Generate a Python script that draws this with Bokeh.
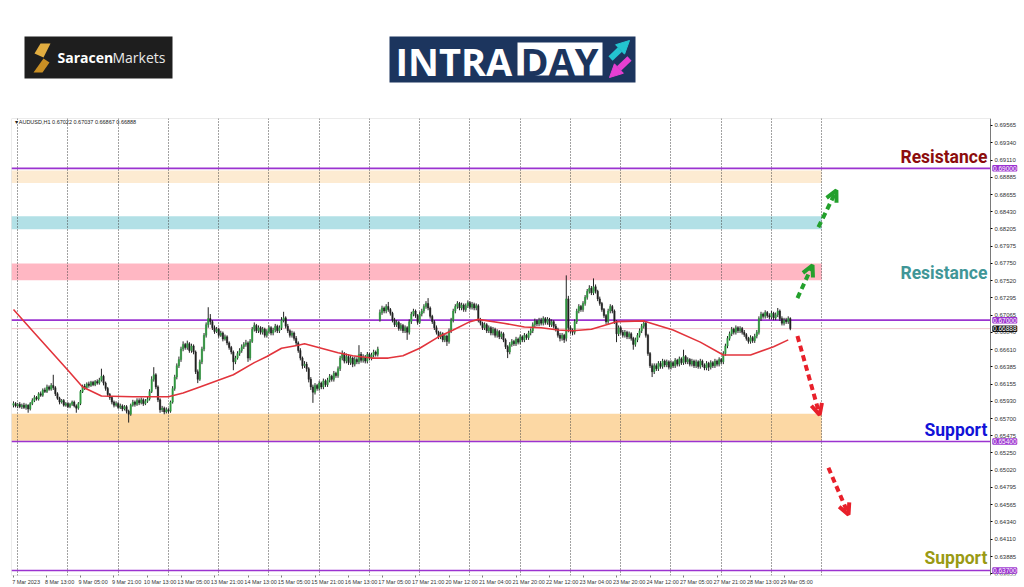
from bokeh.plotting import figure
from bokeh.models import (Range1d, FixedTicker, PrintfTickFormatter, Label, BoxAnnotation,
                          Arrow, OpenHead, NormalHead, ColumnDataSource)
from bokeh.layouts import column
from bokeh.core.properties import value
from bokeh.embed import file_html
from bokeh.resources import INLINE

# ---------------- data ----------------
symbol = "AUDUSD,H1"

opens = [
0.6588, 0.6590, 0.6587, 0.6589, 0.6586, 0.6588, 0.6585, 0.6588, 0.6583, 0.6590, 0.6594, 0.6598,
0.6596, 0.6603, 0.6601, 0.6608, 0.6606, 0.6612, 0.6609, 0.6614, 0.6611, 0.6603, 0.6597, 0.6592,
0.6594, 0.6588, 0.6590, 0.6586, 0.6589, 0.6592, 0.6587, 0.6584, 0.6590, 0.6606, 0.6613, 0.6611,
0.6616, 0.6614, 0.6618, 0.6615, 0.6619, 0.6617, 0.6621, 0.6626, 0.6617, 0.6610, 0.6602, 0.6598,
0.6592, 0.6588, 0.6590, 0.6585, 0.6587, 0.6583, 0.6586, 0.6580, 0.6576, 0.6588, 0.6592, 0.6589,
0.6594, 0.6591, 0.6595, 0.6590, 0.6593, 0.6596, 0.6606, 0.6622, 0.6628, 0.6612, 0.6595, 0.6582,
0.6584, 0.6579, 0.6582, 0.6580, 0.6592, 0.6610, 0.6625, 0.6640, 0.6648, 0.6662, 0.6668, 0.6664,
0.6669, 0.6660, 0.6666, 0.6658, 0.6632, 0.6622, 0.6645, 0.6662, 0.6680, 0.6694, 0.6702, 0.6698,
0.6690, 0.6685, 0.6688, 0.6680, 0.6683, 0.6675, 0.6678, 0.6670, 0.6664, 0.6658, 0.6645, 0.6650,
0.6656, 0.6660, 0.6665, 0.6668, 0.6670, 0.6650, 0.6672, 0.6688, 0.6693, 0.6686, 0.6690, 0.6684,
0.6688, 0.6680, 0.6685, 0.6690, 0.6683, 0.6687, 0.6692, 0.6686, 0.6690, 0.6700, 0.6703, 0.6692,
0.6686, 0.6680, 0.6683, 0.6676, 0.6670, 0.6660, 0.6650, 0.6640, 0.6642, 0.6636, 0.6622, 0.6612,
0.6605, 0.6614, 0.6610, 0.6617, 0.6612, 0.6620, 0.6615, 0.6621, 0.6626, 0.6622, 0.6630, 0.6627,
0.6636, 0.6650, 0.6656, 0.6646, 0.6652, 0.6644, 0.6650, 0.6642, 0.6648, 0.6645, 0.6655, 0.6647,
0.6651, 0.6646, 0.6655, 0.6650, 0.6654, 0.6658, 0.6655, 0.6700, 0.6710, 0.6716, 0.6712, 0.6718,
0.6714, 0.6709, 0.6700, 0.6694, 0.6697, 0.6689, 0.6693, 0.6686, 0.6690, 0.6684, 0.6698, 0.6708,
0.6712, 0.6706, 0.6697, 0.6708, 0.6712, 0.6718, 0.6722, 0.6716, 0.6705, 0.6698, 0.6690, 0.6684,
0.6678, 0.6682, 0.6674, 0.6679, 0.6672, 0.6686, 0.6700, 0.6712, 0.6718, 0.6722, 0.6716, 0.6720,
0.6714, 0.6719, 0.6723, 0.6717, 0.6721, 0.6716, 0.6719, 0.6700, 0.6696, 0.6690, 0.6694, 0.6686,
0.6690, 0.6683, 0.6688, 0.6680, 0.6685, 0.6678, 0.6682, 0.6674, 0.6665, 0.6658, 0.6668, 0.6672,
0.6669, 0.6675, 0.6671, 0.6678, 0.6674, 0.6680, 0.6677, 0.6683, 0.6686, 0.6694, 0.6699, 0.6695,
0.6700, 0.6696, 0.6702, 0.6697, 0.6701, 0.6694, 0.6698, 0.6692, 0.6688, 0.6680, 0.6676, 0.6680,
0.6676, 0.6728, 0.6690, 0.6686, 0.6684, 0.6698, 0.6712, 0.6718, 0.6714, 0.6722, 0.6730, 0.6738,
0.6742, 0.6736, 0.6744, 0.6738, 0.6728, 0.6722, 0.6714, 0.6706, 0.6698, 0.6712, 0.6718, 0.6712,
0.6698, 0.6682, 0.6690, 0.6684, 0.6680, 0.6684, 0.6678, 0.6682, 0.6676, 0.6668, 0.6674, 0.6680,
0.6686, 0.6692, 0.6696, 0.6680, 0.6656, 0.6640, 0.6632, 0.6640, 0.6636, 0.6643, 0.6639, 0.6646,
0.6641, 0.6645, 0.6638, 0.6644, 0.6640, 0.6647, 0.6642, 0.6649, 0.6644, 0.6652, 0.6645, 0.6648,
0.6642, 0.6646, 0.6640, 0.6645, 0.6639, 0.6646, 0.6641, 0.6637, 0.6643, 0.6638, 0.6644, 0.6640,
0.6646, 0.6642, 0.6648, 0.6645, 0.6656, 0.6666, 0.6676, 0.6682, 0.6688, 0.6684, 0.6690, 0.6686,
0.6689, 0.6684, 0.6681, 0.6676, 0.6672, 0.6677, 0.6673, 0.6679, 0.6684, 0.6702, 0.6708, 0.6705,
0.6710, 0.6706, 0.6704, 0.6709, 0.6703, 0.6707, 0.6712, 0.6702, 0.6696, 0.6700, 0.6698, 0.67022,
]

highs = [
0.6593, 0.6592, 0.6591, 0.6592, 0.6590, 0.6591, 0.6590, 0.6589, 0.6592, 0.6597, 0.6601, 0.6600,
0.6605, 0.6606, 0.6610, 0.6611, 0.6615, 0.6614, 0.6617, 0.6628, 0.6613, 0.6605, 0.6599, 0.6596,
0.6596, 0.6592, 0.6592, 0.6591, 0.6594, 0.6594, 0.6589, 0.6592, 0.6608, 0.6615, 0.6616, 0.6618,
0.6619, 0.6620, 0.6620, 0.6621, 0.6622, 0.6624, 0.6636, 0.6628, 0.6619, 0.6612, 0.6604, 0.6600,
0.6594, 0.6593, 0.6592, 0.6590, 0.6589, 0.6588, 0.6588, 0.6582, 0.6590, 0.6595, 0.6594, 0.6597,
0.6597, 0.6598, 0.6597, 0.6596, 0.6599, 0.6609, 0.6626, 0.6638, 0.6630, 0.6614, 0.6597, 0.6587,
0.6586, 0.6585, 0.6584, 0.6594, 0.6613, 0.6628, 0.6643, 0.6652, 0.6665, 0.6672, 0.6670, 0.6673,
0.6671, 0.6669, 0.6668, 0.6660, 0.6635, 0.6648, 0.6665, 0.6683, 0.6697, 0.6717, 0.6708, 0.6700,
0.6693, 0.6691, 0.6690, 0.6686, 0.6685, 0.6681, 0.6680, 0.6672, 0.6666, 0.6660, 0.6653, 0.6659,
0.6663, 0.6668, 0.6671, 0.6674, 0.6672, 0.6675, 0.6691, 0.6697, 0.6695, 0.6693, 0.6692, 0.6691,
0.6690, 0.6688, 0.6693, 0.6692, 0.6690, 0.6695, 0.6694, 0.6693, 0.6704, 0.6711, 0.6705, 0.6695,
0.6688, 0.6686, 0.6685, 0.6679, 0.6672, 0.6663, 0.6652, 0.6646, 0.6645, 0.6638, 0.6625, 0.6615,
0.6617, 0.6616, 0.6620, 0.6619, 0.6623, 0.6622, 0.6624, 0.6629, 0.6628, 0.6633, 0.6632, 0.6639,
0.6653, 0.6660, 0.6658, 0.6656, 0.6655, 0.6654, 0.6652, 0.6652, 0.6651, 0.6667, 0.6658, 0.6655,
0.6654, 0.6658, 0.6657, 0.6657, 0.6661, 0.6660, 0.6665, 0.6714, 0.6719, 0.6718, 0.6721, 0.6724,
0.6716, 0.6711, 0.6703, 0.6700, 0.6699, 0.6696, 0.6695, 0.6693, 0.6692, 0.6701, 0.6711, 0.6715,
0.6714, 0.6708, 0.6711, 0.6715, 0.6721, 0.6725, 0.6729, 0.6718, 0.6707, 0.6700, 0.6693, 0.6686,
0.6685, 0.6684, 0.6682, 0.6681, 0.6689, 0.6703, 0.6715, 0.6721, 0.6725, 0.6724, 0.6723, 0.6722,
0.6722, 0.6726, 0.6725, 0.6724, 0.6723, 0.6722, 0.6721, 0.6703, 0.6698, 0.6697, 0.6696, 0.6693,
0.6692, 0.6691, 0.6690, 0.6688, 0.6687, 0.6685, 0.6684, 0.6676, 0.6667, 0.6671, 0.6675, 0.6674,
0.6678, 0.6677, 0.6681, 0.6680, 0.6683, 0.6682, 0.6686, 0.6689, 0.6697, 0.6702, 0.6701, 0.6703,
0.6703, 0.6705, 0.6704, 0.6704, 0.6703, 0.6701, 0.6700, 0.6695, 0.6690, 0.6683, 0.6683, 0.6682,
0.6759, 0.6732, 0.6693, 0.6689, 0.6701, 0.6715, 0.6721, 0.6720, 0.6725, 0.6733, 0.6741, 0.6746,
0.6745, 0.6755, 0.6747, 0.6740, 0.6731, 0.6724, 0.6716, 0.6708, 0.6715, 0.6721, 0.6720, 0.6714,
0.6700, 0.6693, 0.6692, 0.6687, 0.6687, 0.6686, 0.6685, 0.6684, 0.6678, 0.6677, 0.6683, 0.6689,
0.6695, 0.6700, 0.6698, 0.6682, 0.6658, 0.6643, 0.6643, 0.6643, 0.6646, 0.6646, 0.6649, 0.6648,
0.6648, 0.6647, 0.6647, 0.6646, 0.6650, 0.6649, 0.6652, 0.6651, 0.6661, 0.6654, 0.6651, 0.6650,
0.6649, 0.6648, 0.6648, 0.6647, 0.6649, 0.6648, 0.6643, 0.6646, 0.6645, 0.6647, 0.6646, 0.6649,
0.6648, 0.6651, 0.6650, 0.6659, 0.6669, 0.6679, 0.6685, 0.6691, 0.6690, 0.6693, 0.6692, 0.6692,
0.6691, 0.6687, 0.6683, 0.6678, 0.6680, 0.6679, 0.6682, 0.6687, 0.6705, 0.6711, 0.6710, 0.6713,
0.6712, 0.6709, 0.6712, 0.6711, 0.6710, 0.6716, 0.6714, 0.6705, 0.6703, 0.6703, 0.6705, 0.67037,
]

lows = [
0.6585, 0.6585, 0.6584, 0.6584, 0.6583, 0.6583, 0.6582, 0.6578, 0.6581, 0.6588, 0.6592, 0.6594,
0.6594, 0.6599, 0.6599, 0.6604, 0.6604, 0.6607, 0.6607, 0.6608, 0.6600, 0.6595, 0.6589, 0.6590,
0.6586, 0.6586, 0.6584, 0.6584, 0.6587, 0.6585, 0.6578, 0.6582, 0.6588, 0.6604, 0.6608, 0.6609,
0.6611, 0.6612, 0.6613, 0.6613, 0.6615, 0.6615, 0.6619, 0.6614, 0.6607, 0.6599, 0.6595, 0.6589,
0.6585, 0.6586, 0.6583, 0.6583, 0.6580, 0.6581, 0.6577, 0.6565, 0.6574, 0.6586, 0.6586, 0.6587,
0.6588, 0.6589, 0.6587, 0.6588, 0.6591, 0.6594, 0.6604, 0.6619, 0.6609, 0.6592, 0.6578, 0.6579,
0.6576, 0.6577, 0.6577, 0.6578, 0.6590, 0.6607, 0.6622, 0.6637, 0.6645, 0.6659, 0.6661, 0.6661,
0.6657, 0.6657, 0.6655, 0.6629, 0.6617, 0.6620, 0.6642, 0.6659, 0.6677, 0.6690, 0.6694, 0.6687,
0.6682, 0.6683, 0.6677, 0.6678, 0.6672, 0.6673, 0.6667, 0.6661, 0.6655, 0.6634, 0.6642, 0.6648,
0.6653, 0.6657, 0.6662, 0.6665, 0.6645, 0.6647, 0.6670, 0.6685, 0.6683, 0.6683, 0.6681, 0.6681,
0.6677, 0.6677, 0.6682, 0.6680, 0.6680, 0.6684, 0.6683, 0.6683, 0.6687, 0.6697, 0.6689, 0.6683,
0.6677, 0.6677, 0.6673, 0.6667, 0.6657, 0.6647, 0.6636, 0.6637, 0.6632, 0.6618, 0.6608, 0.6591,
0.6602, 0.6607, 0.6607, 0.6609, 0.6609, 0.6612, 0.6612, 0.6618, 0.6619, 0.6619, 0.6624, 0.6624,
0.6633, 0.6647, 0.6643, 0.6643, 0.6641, 0.6641, 0.6638, 0.6639, 0.6642, 0.6642, 0.6644, 0.6644,
0.6643, 0.6643, 0.6647, 0.6647, 0.6651, 0.6652, 0.6652, 0.6698, 0.6707, 0.6709, 0.6709, 0.6711,
0.6706, 0.6697, 0.6691, 0.6691, 0.6686, 0.6686, 0.6683, 0.6683, 0.6674, 0.6681, 0.6695, 0.6705,
0.6703, 0.6694, 0.6695, 0.6705, 0.6709, 0.6715, 0.6713, 0.6702, 0.6695, 0.6687, 0.6681, 0.6675,
0.6675, 0.6671, 0.6671, 0.6666, 0.6669, 0.6683, 0.6697, 0.6709, 0.6715, 0.6713, 0.6713, 0.6711,
0.6711, 0.6716, 0.6714, 0.6714, 0.6713, 0.6713, 0.6697, 0.6693, 0.6687, 0.6687, 0.6683, 0.6683,
0.6680, 0.6680, 0.6677, 0.6677, 0.6675, 0.6675, 0.6671, 0.6662, 0.6650, 0.6655, 0.6665, 0.6666,
0.6666, 0.6668, 0.6668, 0.6671, 0.6671, 0.6674, 0.6674, 0.6680, 0.6683, 0.6691, 0.6692, 0.6692,
0.6693, 0.6693, 0.6694, 0.6694, 0.6691, 0.6691, 0.6689, 0.6685, 0.6677, 0.6672, 0.6673, 0.6670,
0.6672, 0.6684, 0.6682, 0.6680, 0.6681, 0.6695, 0.6709, 0.6711, 0.6711, 0.6719, 0.6727, 0.6735,
0.6733, 0.6733, 0.6735, 0.6725, 0.6719, 0.6711, 0.6703, 0.6695, 0.6695, 0.6709, 0.6709, 0.6695,
0.6671, 0.6679, 0.6681, 0.6677, 0.6677, 0.6675, 0.6675, 0.6673, 0.6661, 0.6665, 0.6671, 0.6677,
0.6683, 0.6689, 0.6677, 0.6653, 0.6637, 0.6625, 0.6629, 0.6633, 0.6633, 0.6636, 0.6636, 0.6638,
0.6638, 0.6635, 0.6635, 0.6637, 0.6637, 0.6639, 0.6639, 0.6641, 0.6641, 0.6642, 0.6642, 0.6639,
0.6639, 0.6637, 0.6637, 0.6636, 0.6636, 0.6638, 0.6634, 0.6634, 0.6633, 0.6635, 0.6637, 0.6637,
0.6639, 0.6639, 0.6642, 0.6642, 0.6653, 0.6663, 0.6673, 0.6679, 0.6681, 0.6681, 0.6683, 0.6683,
0.6681, 0.6678, 0.6673, 0.6669, 0.6669, 0.6670, 0.6670, 0.6676, 0.6681, 0.6699, 0.6702, 0.6702,
0.6703, 0.6701, 0.6701, 0.6700, 0.6700, 0.6704, 0.6699, 0.6693, 0.6693, 0.6695, 0.6695, 0.66867,
]

closes = [
0.6590, 0.6587, 0.6589, 0.6586, 0.6588, 0.6585, 0.6588, 0.6583, 0.6590, 0.6594, 0.6598, 0.6596,
0.6603, 0.6601, 0.6608, 0.6606, 0.6612, 0.6609, 0.6614, 0.6611, 0.6603, 0.6597, 0.6592, 0.6594,
0.6588, 0.6590, 0.6586, 0.6589, 0.6592, 0.6587, 0.6584, 0.6590, 0.6606, 0.6613, 0.6611, 0.6616,
0.6614, 0.6618, 0.6615, 0.6619, 0.6617, 0.6621, 0.6626, 0.6617, 0.6610, 0.6602, 0.6598, 0.6592,
0.6588, 0.6590, 0.6585, 0.6587, 0.6583, 0.6586, 0.6580, 0.6576, 0.6588, 0.6592, 0.6589, 0.6594,
0.6591, 0.6595, 0.6590, 0.6593, 0.6596, 0.6606, 0.6622, 0.6628, 0.6612, 0.6595, 0.6582, 0.6584,
0.6579, 0.6582, 0.6580, 0.6592, 0.6610, 0.6625, 0.6640, 0.6648, 0.6662, 0.6668, 0.6664, 0.6669,
0.6660, 0.6666, 0.6658, 0.6632, 0.6622, 0.6645, 0.6662, 0.6680, 0.6694, 0.6702, 0.6698, 0.6690,
0.6685, 0.6688, 0.6680, 0.6683, 0.6675, 0.6678, 0.6670, 0.6664, 0.6658, 0.6645, 0.6650, 0.6656,
0.6660, 0.6665, 0.6668, 0.6670, 0.6650, 0.6672, 0.6688, 0.6693, 0.6686, 0.6690, 0.6684, 0.6688,
0.6680, 0.6685, 0.6690, 0.6683, 0.6687, 0.6692, 0.6686, 0.6690, 0.6700, 0.6703, 0.6692, 0.6686,
0.6680, 0.6683, 0.6676, 0.6670, 0.6660, 0.6650, 0.6640, 0.6642, 0.6636, 0.6622, 0.6612, 0.6605,
0.6614, 0.6610, 0.6617, 0.6612, 0.6620, 0.6615, 0.6621, 0.6626, 0.6622, 0.6630, 0.6627, 0.6636,
0.6650, 0.6656, 0.6646, 0.6652, 0.6644, 0.6650, 0.6642, 0.6648, 0.6645, 0.6655, 0.6647, 0.6651,
0.6646, 0.6655, 0.6650, 0.6654, 0.6658, 0.6655, 0.6662, 0.6710, 0.6716, 0.6712, 0.6718, 0.6714,
0.6709, 0.6700, 0.6694, 0.6697, 0.6689, 0.6693, 0.6686, 0.6690, 0.6684, 0.6698, 0.6708, 0.6712,
0.6706, 0.6697, 0.6708, 0.6712, 0.6718, 0.6722, 0.6716, 0.6705, 0.6698, 0.6690, 0.6684, 0.6678,
0.6682, 0.6674, 0.6679, 0.6672, 0.6686, 0.6700, 0.6712, 0.6718, 0.6722, 0.6716, 0.6720, 0.6714,
0.6719, 0.6723, 0.6717, 0.6721, 0.6716, 0.6719, 0.6700, 0.6696, 0.6690, 0.6694, 0.6686, 0.6690,
0.6683, 0.6688, 0.6680, 0.6685, 0.6678, 0.6682, 0.6674, 0.6665, 0.6658, 0.6668, 0.6672, 0.6669,
0.6675, 0.6671, 0.6678, 0.6674, 0.6680, 0.6677, 0.6683, 0.6686, 0.6694, 0.6699, 0.6695, 0.6700,
0.6696, 0.6702, 0.6697, 0.6701, 0.6694, 0.6698, 0.6692, 0.6688, 0.6680, 0.6676, 0.6680, 0.6674,
0.6728, 0.6690, 0.6686, 0.6684, 0.6698, 0.6712, 0.6718, 0.6714, 0.6722, 0.6730, 0.6738, 0.6742,
0.6736, 0.6744, 0.6738, 0.6728, 0.6722, 0.6714, 0.6706, 0.6698, 0.6712, 0.6718, 0.6712, 0.6698,
0.6682, 0.6690, 0.6684, 0.6680, 0.6684, 0.6678, 0.6682, 0.6676, 0.6668, 0.6674, 0.6680, 0.6686,
0.6692, 0.6696, 0.6680, 0.6656, 0.6640, 0.6632, 0.6640, 0.6636, 0.6643, 0.6639, 0.6646, 0.6641,
0.6645, 0.6638, 0.6644, 0.6640, 0.6647, 0.6642, 0.6649, 0.6644, 0.6652, 0.6645, 0.6648, 0.6642,
0.6646, 0.6640, 0.6645, 0.6639, 0.6646, 0.6641, 0.6637, 0.6643, 0.6638, 0.6644, 0.6640, 0.6646,
0.6642, 0.6648, 0.6645, 0.6656, 0.6666, 0.6676, 0.6682, 0.6688, 0.6684, 0.6690, 0.6686, 0.6689,
0.6684, 0.6681, 0.6676, 0.6672, 0.6677, 0.6673, 0.6679, 0.6684, 0.6702, 0.6708, 0.6705, 0.6710,
0.6706, 0.6704, 0.6709, 0.6703, 0.6707, 0.6712, 0.6702, 0.6696, 0.6700, 0.6698, 0.6702, 0.66888,
]

# moving average (bar index, value)
ma_idx = [0, 10, 26, 33, 42, 57, 74, 81, 89, 105, 115, 121, 128, 136, 139, 147, 155, 162, 171, 179,
          186, 194, 203, 210, 218, 222, 234, 244, 252, 260, 267, 276, 288, 301, 315, 328, 339, 352, 363, 370]
ma_val = [0.6714, 0.6683, 0.6634, 0.6612, 0.6600, 0.6599, 0.6599, 0.6604, 0.6612, 0.6628, 0.6644, 0.6652,
          0.6663, 0.6667, 0.6669, 0.6663, 0.6657, 0.6653, 0.6650, 0.6650, 0.6653, 0.6663, 0.6678, 0.6687,
          0.6698, 0.6701, 0.6696, 0.6691, 0.6690, 0.6687, 0.6686, 0.6688, 0.6698, 0.6699, 0.6687, 0.6671,
          0.6654, 0.6654, 0.6665, 0.6674]

time_labels = ["7 Mar 2023", "8 Mar 13:00", "9 Mar 05:00", "9 Mar 21:00", "10 Mar 13:00",
               "13 Mar 05:00", "13 Mar 21:00", "14 Mar 13:00", "15 Mar 05:00", "15 Mar 21:00",
               "16 Mar 13:00", "17 Mar 05:00", "17 Mar 21:00", "20 Mar 12:00", "21 Mar 04:00",
               "21 Mar 20:00", "22 Mar 12:00", "23 Mar 04:00", "23 Mar 20:00", "24 Mar 12:00",
               "27 Mar 05:00", "27 Mar 21:00", "28 Mar 13:00", "29 Mar 05:00"]
bars_per_label = 16
bars_per_day = 24
first_day_bar = 2

price_ticks = [0.69565, 0.69340, 0.69110, 0.68885, 0.68655, 0.68430, 0.68205, 0.67975, 0.67750,
               0.67520, 0.67295, 0.67065, 0.66840, 0.66610, 0.66385, 0.66155, 0.65930, 0.65700,
               0.65475, 0.65250, 0.65020, 0.64795, 0.64565, 0.64340, 0.64110, 0.63885, 0.63655]

levels = [0.69000, 0.67000, 0.65400, 0.63700]
bid_price = 0.66888

zone_low = [0.68806, 0.68197, 0.67527, 0.65410]
zone_high = [0.68973, 0.68368, 0.67747, 0.65765]
zone_colors = ["#fdebd2", "#b2e0e6", "#ffb7c3", "#fcd8a4"]

note_texts = ["Resistance", "Resistance", "Support", "Support"]
note_prices = [0.69144, 0.67619, 0.65554, 0.63871]
note_colors = ["#8c0c0c", "#409697", "#1212d8", "#9a9a14"]

# scenario arrows: (bar start, price start, bar end, price end)
arrows_up = [(384.4, 0.68224, 393.0, 0.68710), (374.4, 0.67290, 381.6, 0.67724)]
arrows_down = [(374.4, 0.66790, 385.0, 0.65752), (389.2, 0.65055, 398.8, 0.64437)]

# ---------------- layout constants ----------------
W, H = 1024, 587
TOP_H = 116
FRAME_L = 11          # left edge of the chart box
CHART_R = 990         # right edge of the chart box (price scale lives to its right)
x_start, x_end = -0.95, 466.6
y_start, y_end = 0.63635, 0.69657
x_view_end = x_end + (x_end - x_start) * (W - CHART_R) / (CHART_R - FRAME_L)

# ---------------- logo strip ----------------
top = figure(width=W, height=TOP_H, x_range=Range1d(FRAME_L, W), y_range=Range1d(TOP_H, 0),
             toolbar_location=None, output_backend="svg", min_border=0)
top.xaxis.visible = False
top.yaxis.visible = False
top.grid.visible = False
top.outline_line_color = None
top.background_fill_color = "white"
top.border_fill_color = "white"

top.quad(left=[24, 389], right=[172, 635], top=[36, 36], bottom=[78, 82],
         fill_color=["#1e1e1e", "#1c355e"], line_color=None)
top.patches(xs=[[40, 50, 43, 34], [43, 49, 42, 33]], ys=[[43, 43, 57, 53], [58, 62, 72, 72]],
            fill_color=["#e2ad40", "#c98f24"], line_color=None)
top.text(x=[57], y=[57], text=["Saracen"], text_font=value("Open Sans"), text_font_size="14px",
         text_font_style="bold", text_color="white", text_baseline="middle")
top.text(x=[112], y=[57], text=["Markets"], text_font=value("Open Sans"), text_font_size="14px",
         text_color="#e8e8e8", text_baseline="middle")
top.quad(left=[517], right=[602], top=[42], bottom=[75], fill_color="white", line_color=None)
top.text(x=[395], y=[60], text=["INTRA"], text_font=value("Open Sans"), text_font_size="38px",
         text_font_style="bold", text_color="white", text_baseline="middle")
top.text(x=[520], y=[60], text=["DAY"], text_font=value("Open Sans"), text_font_size="38px",
         text_font_style="bold", text_color="#1c355e", text_baseline="middle")
top.add_layout(Arrow(x_start=610, y_start=58, x_end=629, y_end=40, line_color="#23c4d0", line_width=6,
                     end=NormalHead(size=13, fill_color="#23c4d0", line_color="#23c4d0")))
top.add_layout(Arrow(x_start=629, y_start=58, x_end=609, y_end=77, line_color="#e63fd2", line_width=6,
                     end=NormalHead(size=13, fill_color="#e63fd2", line_color="#e63fd2")))

# ---------------- price chart ----------------
n = len(closes)
idx = list(range(n))
p = figure(width=W, height=H - TOP_H, x_range=Range1d(x_start, x_view_end), y_range=Range1d(y_start, y_end),
           toolbar_location=None, output_backend="svg", y_axis_location="right",
           min_border_left=FRAME_L, min_border_right=0, min_border_top=2, min_border_bottom=11)
p.background_fill_color = "white"
p.border_fill_color = "white"
p.outline_line_color = None
p.ygrid.visible = False
day_lines = list(range(first_day_bar, 400, bars_per_day))
p.xgrid.ticker = FixedTicker(ticks=day_lines)
p.xgrid.grid_line_color = "#444444"
p.xgrid.grid_line_dash = "1 2"
p.xgrid.grid_line_width = 1

# chart box border
p.add_layout(BoxAnnotation(left=x_start, right=x_end, bottom=y_start, top=y_end,
                           fill_alpha=0, line_color="#7a7a7a", line_width=1))

# zones
zone_end = day_lines[16]
p.quad(left=[x_start] * len(zone_low), right=[zone_end] * len(zone_low), bottom=zone_low, top=zone_high,
       fill_color=zone_colors, line_color=None, level="image")

# horizontal levels
p.segment(x0=[x_start] * len(levels), y0=levels, x1=[x_end] * len(levels), y1=levels,
          line_color="#9b33d0", line_width=1.6)
p.segment(x0=[x_start], y0=[bid_price], x1=[x_end], y1=[bid_price], line_color="#f2c4cd", line_width=1)

# candles
p.segment(x0=idx, y0=lows, x1=idx, y1=highs, line_color="#222222", line_width=1)
up_i = [i for i in idx if closes[i] >= opens[i]]
dn_i = [i for i in idx if closes[i] < opens[i]]
p.vbar(x=up_i, width=0.65, top=[closes[i] for i in up_i], bottom=[opens[i] for i in up_i],
       fill_color="#2f9a3f", line_color="#2f9a3f", line_width=0.5)
p.vbar(x=dn_i, width=0.65, top=[opens[i] for i in dn_i], bottom=[closes[i] for i in dn_i],
       fill_color="#222222", line_color="#222222", line_width=0.5)

# moving average
p.line(ma_idx, ma_val, line_color="#e2343c", line_width=1.6)

# notes
note_src = ColumnDataSource(dict(x=[x_end - 1.5] * 4, y=note_prices, t=note_texts, c=note_colors))
p.text(x="x", y="y", text="t", text_color="c", source=note_src, text_align="right",
       text_baseline="middle", text_font=value("Roboto"), text_font_style="bold",
       text_font_size="17.5px")

# arrows
for (x0, y0, x1, y1) in arrows_up:
    p.add_layout(Arrow(x_start=x0, y_start=y0, x_end=x1, y_end=y1, line_color="#23a02c", line_width=4,
                       line_dash="6 4", end=OpenHead(size=11, line_color="#23a02c", line_width=4)))
for (x0, y0, x1, y1) in arrows_down:
    p.add_layout(Arrow(x_start=x0, y_start=y0, x_end=x1, y_end=y1, line_color="#e8202a", line_width=4,
                       line_dash="6 4", end=OpenHead(size=11, line_color="#e8202a", line_width=4)))

# header
p.add_layout(Label(x=0.5, y=0.69605,
                   text="\u25be " + symbol + "  %.5f %.5f %.5f %.5f" % (opens[-1], highs[-1], lows[-1], closes[-1]),
                   text_font_size="5.5px", text_color="#222222", text_baseline="middle",
                   text_font="Liberation Sans"))

# axes
label_pos = [k * bars_per_label + 6 for k in range(len(time_labels))]
p.xaxis.ticker = FixedTicker(ticks=label_pos, minor_ticks=[k * bars_per_label for k in range(len(time_labels))])
p.xaxis.major_label_overrides = {pos: lab for pos, lab in zip(label_pos, time_labels)}
p.xaxis.major_label_text_font = "Liberation Sans"
p.xaxis.major_label_text_font_size = "5.5px"
p.xaxis.major_label_text_color = "#333333"
p.xaxis.major_tick_out = 0
p.xaxis.major_tick_in = 0
p.xaxis.minor_tick_out = 2
p.xaxis.minor_tick_in = 0
p.xaxis.major_label_standoff = 1
p.xaxis.axis_line_color = None
p.xaxis.minor_tick_line_color = "#7a7a7a"

# price scale drawn at the chart's right edge
p.yaxis.fixed_location = x_end
p.yaxis.ticker = FixedTicker(ticks=price_ticks)
p.yaxis.formatter = PrintfTickFormatter(format="%.5f")
p.yaxis.major_label_text_font = "Liberation Sans"
p.yaxis.major_label_text_font_size = "6px"
p.yaxis.major_label_text_color = "#333333"
p.yaxis.major_tick_out = 2
p.yaxis.major_tick_in = 0
p.yaxis.minor_tick_out = 0
p.yaxis.minor_tick_in = 0
p.yaxis.major_label_standoff = 2
p.yaxis.axis_line_color = "#7a7a7a"

# price boxes on the scale
for lv in levels:
    p.add_layout(Label(x=x_end + 1.2, y=lv, text="%.5f" % lv, text_font_size="6.5px", text_color="white",
                       background_fill_color="#9b33d0", border_line_color="#9b33d0", border_line_width=1.5,
                       text_baseline="middle", text_font="Liberation Sans"))
p.add_layout(Label(x=x_end + 1.2, y=bid_price, text="%.5f" % bid_price, text_font_size="6.5px",
                   text_color="white", background_fill_color="#111111", border_line_color="#111111",
                   border_line_width=1.5, text_baseline="middle", text_font="Liberation Sans"))

layout = column(top, p, spacing=0)
open("out.html", "w").write(file_html(layout, INLINE))
